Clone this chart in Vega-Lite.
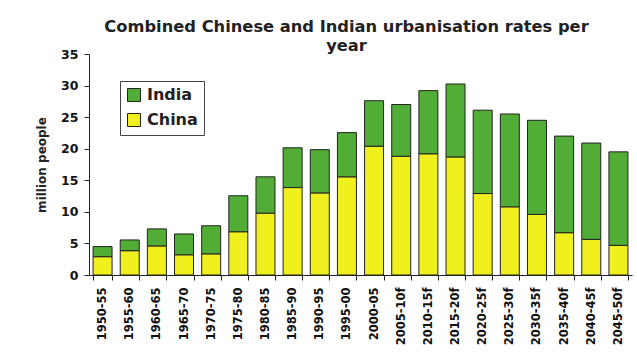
{
  "$schema": "https://vega.github.io/schema/vega-lite/v6.json",
  "autosize": {"type": "none"},
  "width": 543,
  "height": 221,
  "padding": {"left": 89, "top": 54, "right": 5, "bottom": 77},
  "background": "white",
  "title": {
    "text": ["Combined Chinese and Indian urbanisation rates per", "year"],
    "font": "DejaVu Sans",
    "fontSize": 16.3,
    "fontWeight": "bold",
    "color": "#222222",
    "anchor": "middle",
    "frame": "group",
    "lineHeight": 19,
    "offset": -6,
    "dx": -14
  },
  "config": {
    "view": {"stroke": null},
    "font": "DejaVu Sans"
  },
  "data": {
    "values": [
      {"period": "1950-55", "country": "China", "value": 2.9},
      {"period": "1950-55", "country": "India", "value": 1.6},
      {"period": "1955-60", "country": "China", "value": 3.85},
      {"period": "1955-60", "country": "India", "value": 1.7},
      {"period": "1960-65", "country": "China", "value": 4.6},
      {"period": "1960-65", "country": "India", "value": 2.7},
      {"period": "1965-70", "country": "China", "value": 3.2},
      {"period": "1965-70", "country": "India", "value": 3.3},
      {"period": "1970-75", "country": "China", "value": 3.35},
      {"period": "1970-75", "country": "India", "value": 4.45},
      {"period": "1975-80", "country": "China", "value": 6.85},
      {"period": "1975-80", "country": "India", "value": 5.7},
      {"period": "1980-85", "country": "China", "value": 9.8},
      {"period": "1980-85", "country": "India", "value": 5.75},
      {"period": "1985-90", "country": "China", "value": 13.85},
      {"period": "1985-90", "country": "India", "value": 6.3},
      {"period": "1990-95", "country": "China", "value": 13.0},
      {"period": "1990-95", "country": "India", "value": 6.85},
      {"period": "1995-00", "country": "China", "value": 15.55},
      {"period": "1995-00", "country": "India", "value": 7.0},
      {"period": "2000-05", "country": "China", "value": 20.4},
      {"period": "2000-05", "country": "India", "value": 7.2},
      {"period": "2005-10f", "country": "China", "value": 18.8},
      {"period": "2005-10f", "country": "India", "value": 8.2},
      {"period": "2010-15f", "country": "China", "value": 19.2},
      {"period": "2010-15f", "country": "India", "value": 10.0},
      {"period": "2015-20f", "country": "China", "value": 18.7},
      {"period": "2015-20f", "country": "India", "value": 11.55},
      {"period": "2020-25f", "country": "China", "value": 12.9},
      {"period": "2020-25f", "country": "India", "value": 13.2},
      {"period": "2025-30f", "country": "China", "value": 10.8},
      {"period": "2025-30f", "country": "India", "value": 14.7},
      {"period": "2030-35f", "country": "China", "value": 9.6},
      {"period": "2030-35f", "country": "India", "value": 14.9},
      {"period": "2035-40f", "country": "China", "value": 6.7},
      {"period": "2035-40f", "country": "India", "value": 15.3},
      {"period": "2040-45f", "country": "China", "value": 5.65},
      {"period": "2040-45f", "country": "India", "value": 15.25},
      {"period": "2045-50f", "country": "China", "value": 4.7},
      {"period": "2045-50f", "country": "India", "value": 14.8}
    ]
  },
  "mark": {"type": "bar", "stroke": "#222222", "strokeWidth": 1},
  "encoding": {
    "x": {
      "field": "period",
      "type": "nominal",
      "sort": null,
      "scale": {"paddingInner": 0.3, "paddingOuter": 0.15},
      "axis": {
        "title": null,
        "labelAngle": -90,
        "labelFont": "DejaVu Sans",
        "labelFontSize": 11.5,
        "labelFontWeight": "bold",
        "labelColor": "#111111",
        "labelPadding": 7,
        "tickBand": "extent",
        "tickSize": 5,
        "tickColor": "#222222",
        "domainColor": "#222222",
        "domainWidth": 1
      }
    },
    "y": {
      "field": "value",
      "type": "quantitative",
      "stack": "zero",
      "scale": {"domain": [0, 35], "nice": false},
      "axis": {
        "title": "million people",
        "titleFont": "DejaVu Sans",
        "titleFontSize": 12,
        "titleFontWeight": "bold",
        "titleColor": "#222222",
        "titlePadding": 12,
        "values": [0, 5, 10, 15, 20, 25, 30, 35],
        "grid": false,
        "labelFont": "DejaVu Sans",
        "labelFontSize": 12.5,
        "labelFontWeight": "bold",
        "labelColor": "#111111",
        "labelPadding": 6,
        "tickSize": 5,
        "tickColor": "#222222",
        "domainColor": "#222222"
      }
    },
    "color": {
      "field": "country",
      "type": "nominal",
      "scale": {"domain": ["India", "China"], "range": ["#52ad36", "#f0f01e"]},
      "legend": {
        "title": null,
        "orient": "none",
        "legendX": 31,
        "legendY": 27,
        "direction": "vertical",
        "symbolType": "square",
        "symbolSize": 169,
        "symbolStrokeColor": "#222222",
        "symbolStrokeWidth": 1,
        "labelFont": "DejaVu Sans",
        "labelFontSize": 16,
        "labelFontWeight": "bold",
        "labelColor": "#222222",
        "labelOffset": 5,
        "rowPadding": 7,
        "padding": 6,
        "strokeColor": "#444444",
        "fillColor": "white"
      }
    },
    "order": {"field": "country", "sort": "ascending"}
  }
}
